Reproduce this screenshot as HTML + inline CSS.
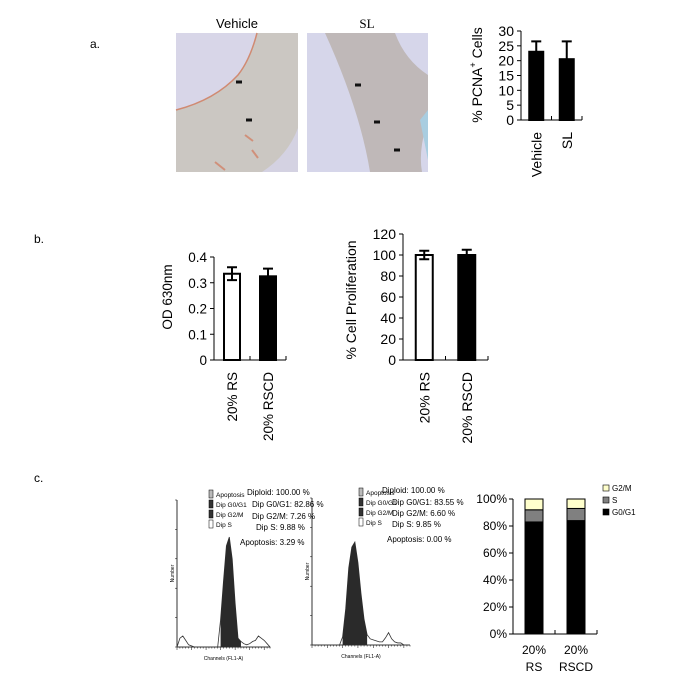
<!DOCTYPE html>
<html><head><meta charset="utf-8"><style>
html,body{margin:0;padding:0;background:#fff;}
svg{display:block;font-family:"Liberation Sans",sans-serif;}
</style></head><body>
<svg id="fig" width="686" height="680" viewBox="0 0 686 680">
<g font-size="12">
<text x="90" y="48">a.</text>
<text x="34" y="243">b.</text>
<text x="34" y="482">c.</text>
</g>
<g>
<text x="237" y="28" font-size="13" text-anchor="middle">Vehicle</text>
<rect x="176" y="33" width="122" height="139" fill="#cbc7c2"/>
<path d="M176 33 L257 33 Q250 60 238 75 Q215 100 176 110 Z" fill="#d8d6e8"/>
<path d="M176 110 Q215 100 238 75 Q250 60 257 33" fill="none" stroke="#d08a72" stroke-width="1.5"/>
<path d="M298 128 L298 172 L262 172 Q288 155 298 128Z" fill="#d4d2e2"/>
<path d="M215 162 l10 8 M245 135 l8 6 M252 150 l6 8" stroke="#d0907a" stroke-width="2"/>
<path d="M236 82 l6 0 M246 120 l6 0" stroke="#111" stroke-width="3"/>
</g>
<g>
<text x="367" y="28" font-size="13" text-anchor="middle" font-family="Liberation Serif, serif">SL</text>
<rect x="307" y="33" width="121" height="139" fill="#d6d6ea"/>
<path d="M325 33 L395 33 Q405 60 428 75 L428 120 Q418 150 422 172 L370 172 Q360 110 325 33Z" fill="#bfb8b8"/>
<path d="M420 120 L428 110 L428 160Z" fill="#a9cde0"/>
<path d="M355 85 l6 0 M374 122 l6 0 M394 150 l6 0" stroke="#111" stroke-width="3"/>
</g>
<g id="chartA"></g>
<g id="chartB1"></g>
<g id="chartB2"></g>
<g id="hist"></g>
<g id="chartC"></g>
</svg>
<script>
const NS="http://www.w3.org/2000/svg";
const aCats=["Vehicle","SL"];
const aVals=[23,20.5];
const aErr=[3.5,6];
const aTicks=[0,5,10,15,20,25,30];
const b1Cats=["20% RS","20% RSCD"];
const b1Vals=[0.335,0.325];
const b1Err=[0.025,0.03];
const b1Ticks=["0","0.1","0.2","0.3","0.4"];
const b2Cats=["20% RS","20% RSCD"];
const b2Vals=[100,100];
const b2Err=[4,5];
const b2Ticks=[0,20,40,60,80,100,120];
const cCats=[["20%","RS"],["20%","RSCD"]];
const cG0G1=[83,84];
const cS=[9,9];
const cG2M=[8,7];
const cTicks=["0%","20%","40%","60%","80%","100%"];
const h1Counts=[0,8,10,6,2,1,0,0,0,0,0,0,0,0,0,25,60,92,100,80,40,8,5,3,2,3,5,6,10,8,6,3,0];
const h2Counts=[0,0,0,0,0,0,0,0,0,0,8,35,75,95,100,80,50,25,10,6,5,4,3,3,7,12,6,3,2,2,0,0,0];

function el(p,tag,attrs){const e=document.createElementNS(NS,tag);for(const k in attrs)e.setAttribute(k,attrs[k]);p.appendChild(e);return e;}
function txt(p,x,y,s,attrs){const e=el(p,"text",Object.assign({x:x,y:y},attrs||{}));e.textContent=s;return e;}

function barChart(g,o){
  const y=v=>o.y0-(v-o.min)/(o.max-o.min)*(o.y0-o.yTop);
  const ax=el(g,"path",{d:`M${o.x0} ${o.yTop} V${o.y0} H${o.x1}`,stroke:"#000",fill:"none","stroke-width":1});
  
  
  o.ticks.forEach((t,i)=>{const v=o.min+i*(o.max-o.min)/(o.ticks.length-1);const yy=y(v);
    el(g,"line",{x1:o.x0-4,x2:o.x0,y1:yy,y2:yy,stroke:"#000"});
    const tl=txt(g,o.x0-7,yy+5,String(t),{"font-size":o.fs,"text-anchor":"end"});
    
    
  });
  const n=o.vals.length,step=(o.x1-o.x0)/n;
  for(let i=1;i<n;i++)el(g,"line",{x1:o.x0+step*i,x2:o.x0+step*i,y1:o.y0,y2:o.y0-4,stroke:"#000"});
  el(g,"line",{x1:o.x1,x2:o.x1,y1:o.y0,y2:o.y0-4,stroke:"#000"});
  o.vals.forEach((v,i)=>{const cx=o.x0+step*(i+0.5);
    const b=el(g,"rect",{x:cx-o.bw/2,y:y(v),width:o.bw,height:o.y0-y(v),fill:o.fills[i],stroke:"#000","stroke-width":2});
    
    
    const e=o.err[i];
    el(g,"path",{d:`M${cx} ${y(v-(o.both?e:0))} V${y(v+e)} M${cx-5} ${y(v+e)} H${cx+5}`+(o.both?` M${cx-5} ${y(v-e)} H${cx+5}`:""),stroke:"#000","stroke-width":2,fill:"none"});
    const lx=cx+5;
    const l=txt(g,lx,o.y0+12,o.cats[i],{"font-size":o.fs,"text-anchor":"end",transform:`rotate(-90 ${lx} ${o.y0+12})`});
    
    
  });
  const t=txt(g,o.tx,o.ty,o.title,{"font-size":o.fs,"text-anchor":"middle",transform:`rotate(-90 ${o.tx} ${o.ty})`});
  
  
  return t;
}
const ta=barChart(document.getElementById("chartA"),{x0:521,x1:582,y0:120,yTop:31,min:0,max:30,ticks:aTicks,vals:aVals,err:aErr,cats:aCats,bw:14,fills:["#000","#000"],fs:14,title:"% PCNA Cells",tx:482,ty:75,both:false});
ta.innerHTML='% PCNA<tspan font-size="9" dy="-6">+</tspan><tspan dy="6"> Cells</tspan>';
barChart(document.getElementById("chartB1"),{x0:214,x1:286,y0:360,yTop:257,min:0,max:0.4,ticks:b1Ticks,vals:b1Vals,err:b1Err,cats:b1Cats,bw:16,fills:["#fff","#000"],fs:13.5,title:"OD 630nm",tx:172,ty:297,both:true});
barChart(document.getElementById("chartB2"),{x0:403,x1:488,y0:360,yTop:234,min:0,max:120,ticks:b2Ticks,vals:b2Vals,err:b2Err,cats:b2Cats,bw:17,fills:["#fff","#000"],fs:14,title:"% Cell Proliferation",tx:356,ty:300,both:true});

(function(){
  const g=document.getElementById("chartC");
  const x0=513,x1=597,y0=634,yTop=499;
  const y=v=>y0-v/100*(y0-yTop);
  el(g,"path",{d:`M${x0} ${yTop} V${y0} H${x1}`,stroke:"#000",fill:"none"});
  cTicks.forEach((t,i)=>{const yy=y(i*20);el(g,"line",{x1:x0-4,x2:x0,y1:yy,y2:yy,stroke:"#000"});
    const tl=txt(g,x0-6,yy+4,t,{"font-size":12,"text-anchor":"end"});
    
    });
  const step=(x1-x0)/2;
  el(g,"line",{x1:x0+step,x2:x0+step,y1:y0,y2:y0-4,stroke:"#000"});
  el(g,"line",{x1:x1,x2:x1,y1:y0,y2:y0-4,stroke:"#000"});
  const series=[[cG0G1,"#000"],[cS,"#808080"],[cG2M,"#ffffcc"]];
  cCats.forEach((c,i)=>{const cx=x0+step*(i+0.5);let acc=0;
    series.forEach(([arr,f],k)=>{const r=el(g,"rect",{x:cx-9,y:y(acc+arr[i]),width:18,height:y(acc)-y(acc+arr[i]),fill:f,stroke:"#000","stroke-width":1});
      
      
      acc+=arr[i];});
    const l1=txt(g,cx,654,c[0],{"font-size":12,"text-anchor":"middle"});
    
    
    const l2=txt(g,cx,671,c[1],{"font-size":12,"text-anchor":"middle"});
    
    
  });
  [["G2/M","#ffffcc"],["S","#808080"],["G0/G1","#000"]].forEach((l,i)=>{
    const yy=486+i*12;
    const r=el(g,"rect",{x:603,y:yy-1,width:6,height:6,fill:l[1],stroke:"#000","stroke-width":0.6});
    
    
    const t=txt(g,612,yy+5,l[0],{"font-size":8});
    
    
  });
})();

function hist(g,o){
  const bx=i=>o.x0+i/(o.counts.length-1)*(o.x1-o.x0);
  const by=v=>o.y0-v/100*(o.y0-o.peakY);
  el(g,"path",{d:`M${o.x0} ${o.yTop} V${o.y0} H${o.x1}`,stroke:"#000",fill:"none","stroke-width":0.8});
  for(let i=0;i<=32;i++)el(g,"line",{x1:bx(i),x2:bx(i),y1:o.y0,y2:o.y0+(i%5==0?3:1.5),stroke:"#000","stroke-width":0.5});
  for(let i=0;i<=5;i++){const yy=o.y0-i*(o.y0-o.yTop)/5;el(g,"line",{x1:o.x0-2,x2:o.x0,y1:yy,y2:yy,stroke:"#000","stroke-width":0.5});}
  let d=`M${bx(0)} ${o.y0}`;
  o.counts.forEach((v,i)=>{d+=` L${bx(i)} ${by(v)}`;});
  d+=` L${bx(o.counts.length-1)} ${o.y0}Z`;
  const p=el(g,"path",{d:d,fill:"none",stroke:"#333","stroke-width":0.8});
  
  
  let d2=`M${bx(o.pk[0])} ${o.y0}`;
  for(let i=o.pk[0];i<=o.pk[1];i++)d2+=` L${bx(i)} ${by(o.counts[i])}`;
  d2+=` L${bx(o.pk[1])} ${o.y0}Z`;
  const f=el(g,"path",{d:d2,fill:"#2a2a2a"});
  
  
  const ly=o.y0+13;
  txt(g,(o.x0+o.x1)/2,ly,"Channels (FL1-A)",{"font-size":5,"text-anchor":"middle"});
  txt(g,o.x0-3,(o.y0+o.yTop)/2,"Number",{"font-size":5,"text-anchor":"middle",transform:`rotate(-90 ${o.x0-3} ${(o.y0+o.yTop)/2})`});
  ["Apoptosis","Dip G0/G1","Dip G2/M","Dip S"].forEach((s,i)=>{
    el(g,"rect",{x:o.lgx,y:o.lgy+i*10-6,width:4,height:8,fill:["#bbb","#333","#333","#fff"][i],stroke:"#000","stroke-width":0.5});
    txt(g,o.lgx+7,o.lgy+i*10+1,s,{"font-size":6.5});
  });
  o.stats.forEach((s,i)=>{const t=txt(g,s[1],s[2],s[0],{"font-size":8});
    
    });
}
const hg=document.getElementById("hist");
hist(hg,{x0:177,x1:270,y0:647,yTop:500,peakY:537,counts:h1Counts,pk:[15,22],lgx:209,lgy:496,
  stats:[["Diploid: 100.00 %",247,495],["Dip G0/G1: 82.86 %",252,507],["Dip G2/M: 7.26 %",252,519],["Dip S: 9.88 %",256,530],["Apoptosis: 3.29 %",240,545]]});
hist(hg,{x0:312,x1:410,y0:645,yTop:498,peakY:542,counts:h2Counts,pk:[10,18],lgx:359,lgy:494,
  stats:[["Diploid: 100.00 %",382,493],["Dip G0/G1: 83.55 %",392,505],["Dip G2/M: 6.60 %",392,516],["Dip S: 9.85 %",392,527],["Apoptosis: 0.00 %",387,542]]});
</script>
</body></html>
